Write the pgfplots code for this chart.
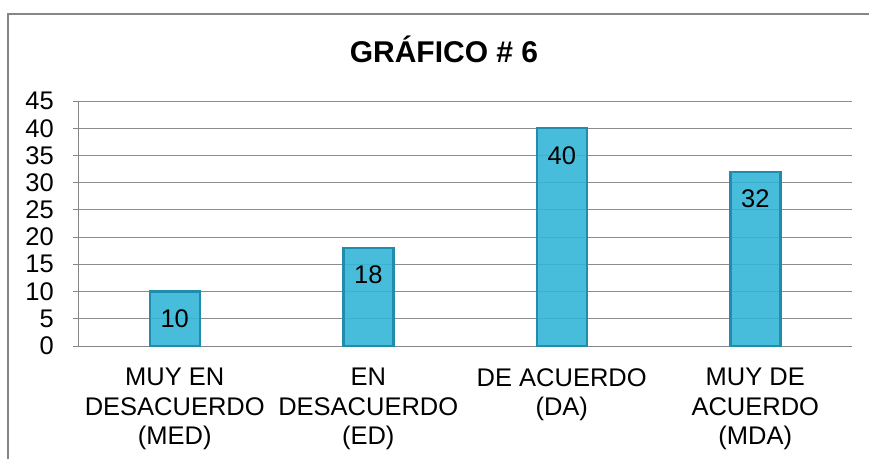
\documentclass[border=0pt]{standalone}
\usepackage{pgfplots}
\pgfplotsset{compat=1.18}
\usepackage{fontspec}
\setmainfont{Liberation Sans}
\definecolor{barface}{RGB}{52,182,215}
\definecolor{baredge}{RGB}{34,140,172}
\definecolor{gridc}{RGB}{140,140,140}
\definecolor{axc}{RGB}{134,134,134}
\begin{document}
\begin{tikzpicture}[x=1pt,y=1pt]
\useasboundingbox (0,0) rectangle (869,459);
\draw[axc, line width=1.2pt] (8,0) -- (8,445) -- (869,445);
\node[font=\fontsize{30}{36}\selectfont\bfseries, anchor=base] at (444,396) {GRÁFICO \# 6};
\begin{axis}[
  at={(78pt,113pt)}, anchor=south west,
  scale only axis, width=774pt, height=245pt,
  xmin=-0.5, xmax=3.5, ymin=0, ymax=45,
  ytick={0,5,...,45},
  xtick={0,1,2,3},
  xticklabels={{MUY EN\\DESACUERDO\\(MED)},{EN\\DESACUERDO\\(ED)},{DE ACUERDO\\(DA)},{MUY DE\\ACUERDO\\(MDA)}},
  axis x line=bottom, axis y line=left,
  axis line style={axc, line width=1pt, -},
  x tick style={draw=none},
  y tick style={axc, line width=1pt},
  tick align=outside, major tick length=5pt,
  ymajorgrids, grid style={gridc, line width=0.8pt},
  /pgf/number format/assume math mode=true,
  tick label style={font=\fontsize{25.5}{29.5}\selectfont},
  yticklabel style={inner sep=0pt, xshift=-19pt},
  xticklabel style={align=center, inner sep=0pt, yshift=-17pt},
  nodes near coords,
  every node near coord/.append style={font=\fontsize{25.5}{29}\selectfont, anchor=center, yshift=-27pt, text=black, fill opacity=1, text opacity=1},
]
\addplot[ybar, bar width=50pt, fill=barface, fill opacity=0.9, draw=baredge, line width=2.5pt] coordinates {(0,10) (1,18) (2,40) (3,32)};
\end{axis}
\end{tikzpicture}
\end{document}
